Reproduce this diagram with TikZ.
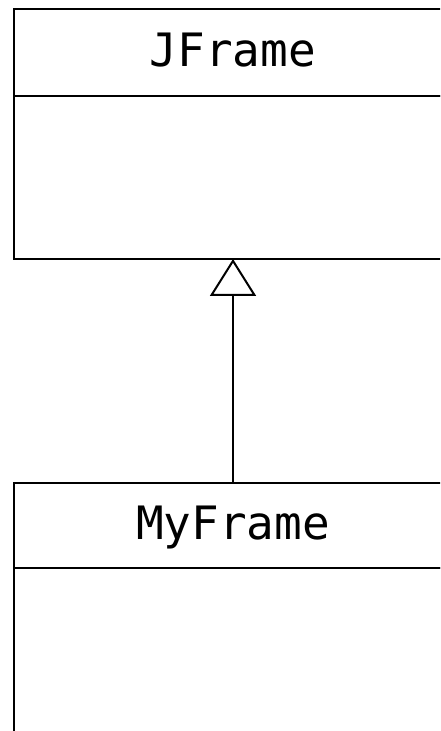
\documentclass[tikz,border=0pt]{standalone}
\usepackage{fontspec}
\setmonofont{DejaVu Sans Mono}
\usetikzlibrary{positioning}
\usetikzlibrary{arrows.meta}

\begin{document}
\begin{tikzpicture}[x=1pt, y=1pt,
    classname/.style={draw, line width=2pt, outer sep=0pt, inner sep=0pt,
        minimum width=438pt, minimum height=87pt, text height=34pt, text depth=6pt,
        font=\ttfamily\fontsize{46}{46}\selectfont},
    classbody/.style={draw, line width=2pt, outer sep=0pt, inner sep=0pt,
        minimum width=438pt, minimum height=163pt},
    extends/.style={-{Triangle[open, length=37pt, width=46pt]}, line width=2pt}]
        \useasboundingbox (0,0) rectangle (440,731);
        \clip (0,0) rectangle (440,731);

        % superclass
        \node[classname] (jframe) at (233,678.5) {JFrame};
        \node[classbody, below=0pt of jframe] (jframebody) {};

        % subclass
        \node[classname, minimum height=85pt] (myframe) at (233,205.5) {MyFrame};
        \node[classbody, minimum height=175pt, below=0pt of myframe] (myframebody) {};

        \draw[extends] (myframe.north) -- (jframebody.south);
    \end{tikzpicture}
\end{document}
